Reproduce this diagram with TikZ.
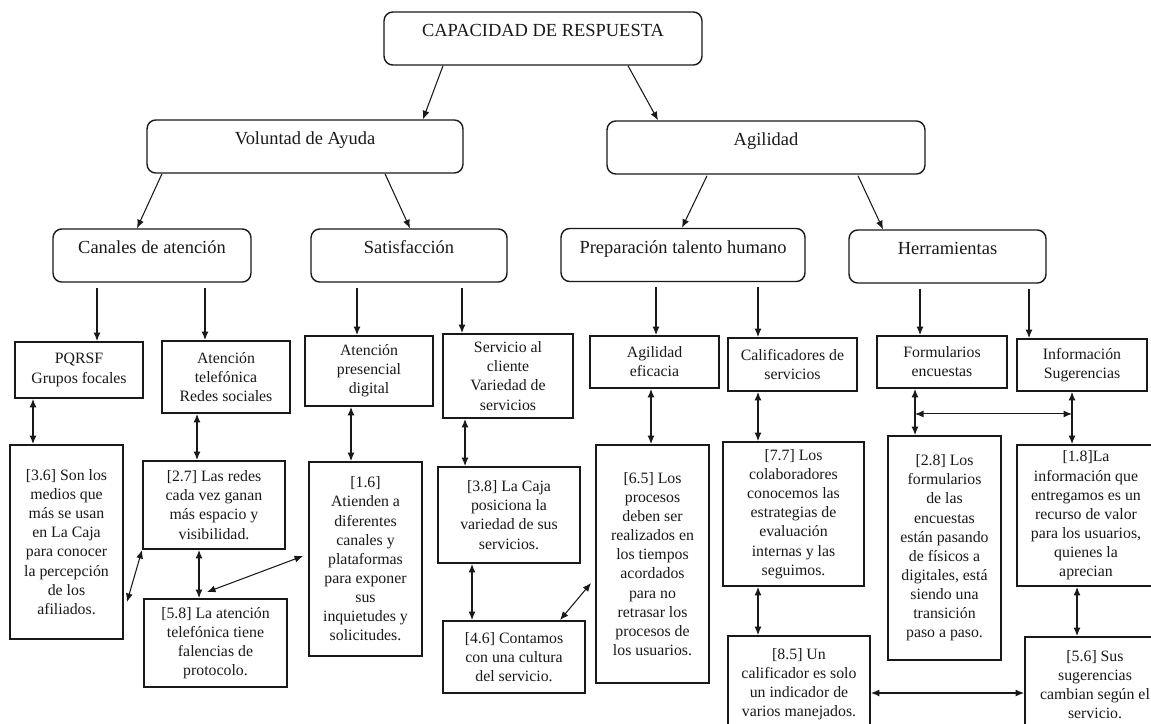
\documentclass[tikz,border=0pt]{standalone}
\usepackage{fontspec}
\setmainfont{Liberation Serif}
\usepackage{tikz}
\usetikzlibrary{arrows.meta,calc,positioning}
\definecolor{mapink}{RGB}{25,25,25}

\begin{document}
\begin{tikzpicture}[x=0.02cm,y=-0.02cm,every node/.style={align=center,text=mapink},
    rbox/.style={draw=mapink,line width=.8pt,rounded corners=5pt,inner ysep=0pt,text height=14.2pt,text depth=16pt,font=\fontsize{10.5}{12.6}\selectfont},
    sbox/.style={draw=mapink,line width=1.1pt,inner sep=1pt,font=\fontsize{9}{10.9}\selectfont},
    arr/.style={draw=mapink,line width=.6pt,-{Latex[length=1.7mm,width=1.4mm]}},
    dbl/.style={draw=mapink,line width=.6pt,{Latex[length=1.7mm,width=1.4mm]}-{Latex[length=1.7mm,width=1.4mm]}}]
    \path[use as bounding box,fill=white] (0,0) rectangle (1151,723);
    % upper levels
    \node[rbox,minimum width=6.36cm] at (543,38.5) (cap) {CAPACIDAD DE RESPUESTA};
    \node[rbox,minimum width=6.32cm] at (305,146.5) (vol) {Voluntad de Ayuda};
    \node[rbox,minimum width=6.36cm] at (766,147.5) (agi) {Agilidad};
    \node[rbox,minimum width=3.96cm] at (152,255.5) (can) {Canales de atención};
    \node[rbox,minimum width=3.92cm] at (409,255.5) (sat) {Satisfacción};
    \node[rbox,minimum width=4.88cm] at (683,255) (pre) {Preparación talento humano};
    \node[rbox,minimum width=3.94cm] at (947.5,256.5) (her) {Herramientas};
    % categories
    \node[sbox,minimum width=2.56cm,minimum height=1.12cm] at (79,370) (pqr) {PQRSF\\Grupos focales};
    \node[sbox,minimum width=2.56cm,minimum height=1.44cm] at (226,377) (tel) {Atención\\telefónica\\Redes sociales};
    \node[sbox,minimum width=2.56cm,minimum height=1.4cm] at (369,371) (pres) {Atención\\presencial\\digital};
    \node[sbox,minimum width=2.6cm,minimum height=1.68cm] at (508,376) (ser) {Servicio al\\cliente\\Variedad de\\servicios};
    \node[sbox,minimum width=2.58cm,minimum height=1.04cm] at (654.5,362) (agl) {Agilidad\\eficacia};
    \node[sbox,minimum width=2.58cm,minimum height=1.06cm] at (792.5,364.5) (cal) {Calificadores de\\servicios};
    \node[sbox,minimum width=2.6cm,minimum height=1.04cm] at (942,362) (frm) {Formularios\\encuestas};
    \node[sbox,minimum width=2.6cm,minimum height=1.04cm] at (1082,365) (inf) {Información\\Sugerencias};
    % answers
    \node[sbox,minimum width=2.26cm,minimum height=3.88cm] at (66.5,542) (r36) {[3.6] Son los\\medios que\\más se usan\\en La Caja\\para conocer\\la percepción\\de los\\afiliados.};
    \node[sbox,minimum width=2.84cm,minimum height=1.76cm] at (214,505) (r27) {[2.7] Las redes\\cada vez ganan\\más espacio y\\visibilidad.};
    \node[sbox,minimum width=2.86cm,minimum height=1.76cm] at (215.5,643) (r58) {[5.8] La atención\\telefónica tiene\\falencias de\\protocolo.};
    \node[sbox,minimum width=2.26cm,minimum height=3.88cm] at (365.5,559) (r16) {[1.6]\\Atienden a\\diferentes\\canales y\\plataformas\\para exponer\\sus\\inquietudes y\\solicitudes.};
    \node[sbox,minimum width=2.84cm,minimum height=1.92cm] at (509,515) (r38) {[3.8] La Caja\\posiciona la\\variedad de sus\\servicios.};
    \node[sbox,minimum width=2.84cm,minimum height=1.44cm] at (514,657) (r46) {[4.6] Contamos\\con una cultura\\del servicio.};
    \node[sbox,minimum width=2.26cm,minimum height=4.76cm] at (652.5,564) (r65) {[6.5] Los\\procesos\\deben ser\\realizados en\\los tiempos\\acordados\\para no\\retrasar los\\procesos de\\los usuarios.};
    \node[sbox,minimum width=2.82cm,minimum height=2.88cm] at (793.5,514) (r77) {[7.7] Los\\colaboradores\\conocemos las\\estrategias de\\evaluación\\internas y las\\seguimos.};
    \node[sbox,minimum width=2.84cm,minimum height=1.92cm] at (799,684) (r85) {[8.5] Un\\calificador es solo\\un indicador de\\varios manejados.};
    \node[sbox,minimum width=2.26cm,minimum height=4.48cm] at (944.5,548) (r28) {[2.8] Los\\formularios\\de las\\encuestas\\están pasando\\de físicos a\\digitales, está\\siendo una\\transición\\paso a paso.};
    \node[sbox,minimum width=2.76cm,minimum height=2.82cm] at (1086,515.5) (r18) {[1.8]La\\información que\\entregamos es un\\recurso de valor\\para los usuarios,\\quienes la\\aprecian};
    \node[sbox,minimum width=2.8cm,minimum height=1.9cm] at (1095,684.5) (r56) {[5.6] Sus\\sugerencias\\cambian según el\\servicio.};
    % tree arrows
    \draw[arr] ($(cap.south)+(-100,0)$) -- ($(vol.north)+(118,0)$);
    \draw[arr] ($(cap.south)+(85,0)$) -- ($(agi.north)+(-108,0)$);
    \draw[arr] ($(vol.south)+(-143,0)$) -- ($(can.north)+(-15,0)$);
    \draw[arr] ($(vol.south)+(80,0)$) -- ($(sat.north)+(1,0)$);
    \draw[arr] ($(agi.south)+(-59,1)$) -- ($(pre.north)+(-1,0)$);
    \draw[arr] ($(agi.south)+(92,1)$) -- ($(her.north)+(-64.5,0)$);
    \foreach \a/\b/\dx in {can/pqr/18,can/tel/-21,sat/pres/-12,sat/ser/-46,pre/agl/1.5,pre/cal/-34.5,her/frm/-22,her/inf/-53}
      \draw[arr] ($(\b.north |- \a.south)+(\dx,5)$) -- ($(\b.north)+(\dx,0)$);
    % two-way links
    \foreach \a/\b/\dx in {pqr/r36/-46,tel/r27/-29,r27/r58/-15,pres/r16/-18,ser/r38/-43,r38/r46/-37,agl/r65/-3.5,cal/r77/-34.5,r77/r85/-35.5,frm/r28/-27,inf/r18/-10,r18/r56/-9}
      \draw[dbl] ($(\a.south)+(\dx,0)$) -- ($(\a.south |- \b.north)+(\dx,0)$);
    \draw[dbl] (r27.south west) -- ($(r36.east)+(3,60)$);
    \draw[dbl] ($(r58.north)+(-8.5,-6)$) -- ($(r16.west)+(-5,-3)$);
    \draw[dbl] ($(r46.north)+(46,0)$) -- ($(r65.west)+(-4,19)$);
    \draw[dbl] ($(r85.east)+(0,9)$) -- ($(r56.west |- r85.east)+(0,9)$);
    \coordinate (fj) at ($(frm.south)+(-27,25)$);
    \coordinate (ij) at ($(inf.south)+(-10,0)$);
    \draw[dbl] (fj) -- (fj -| ij);
  \end{tikzpicture}
\end{document}
